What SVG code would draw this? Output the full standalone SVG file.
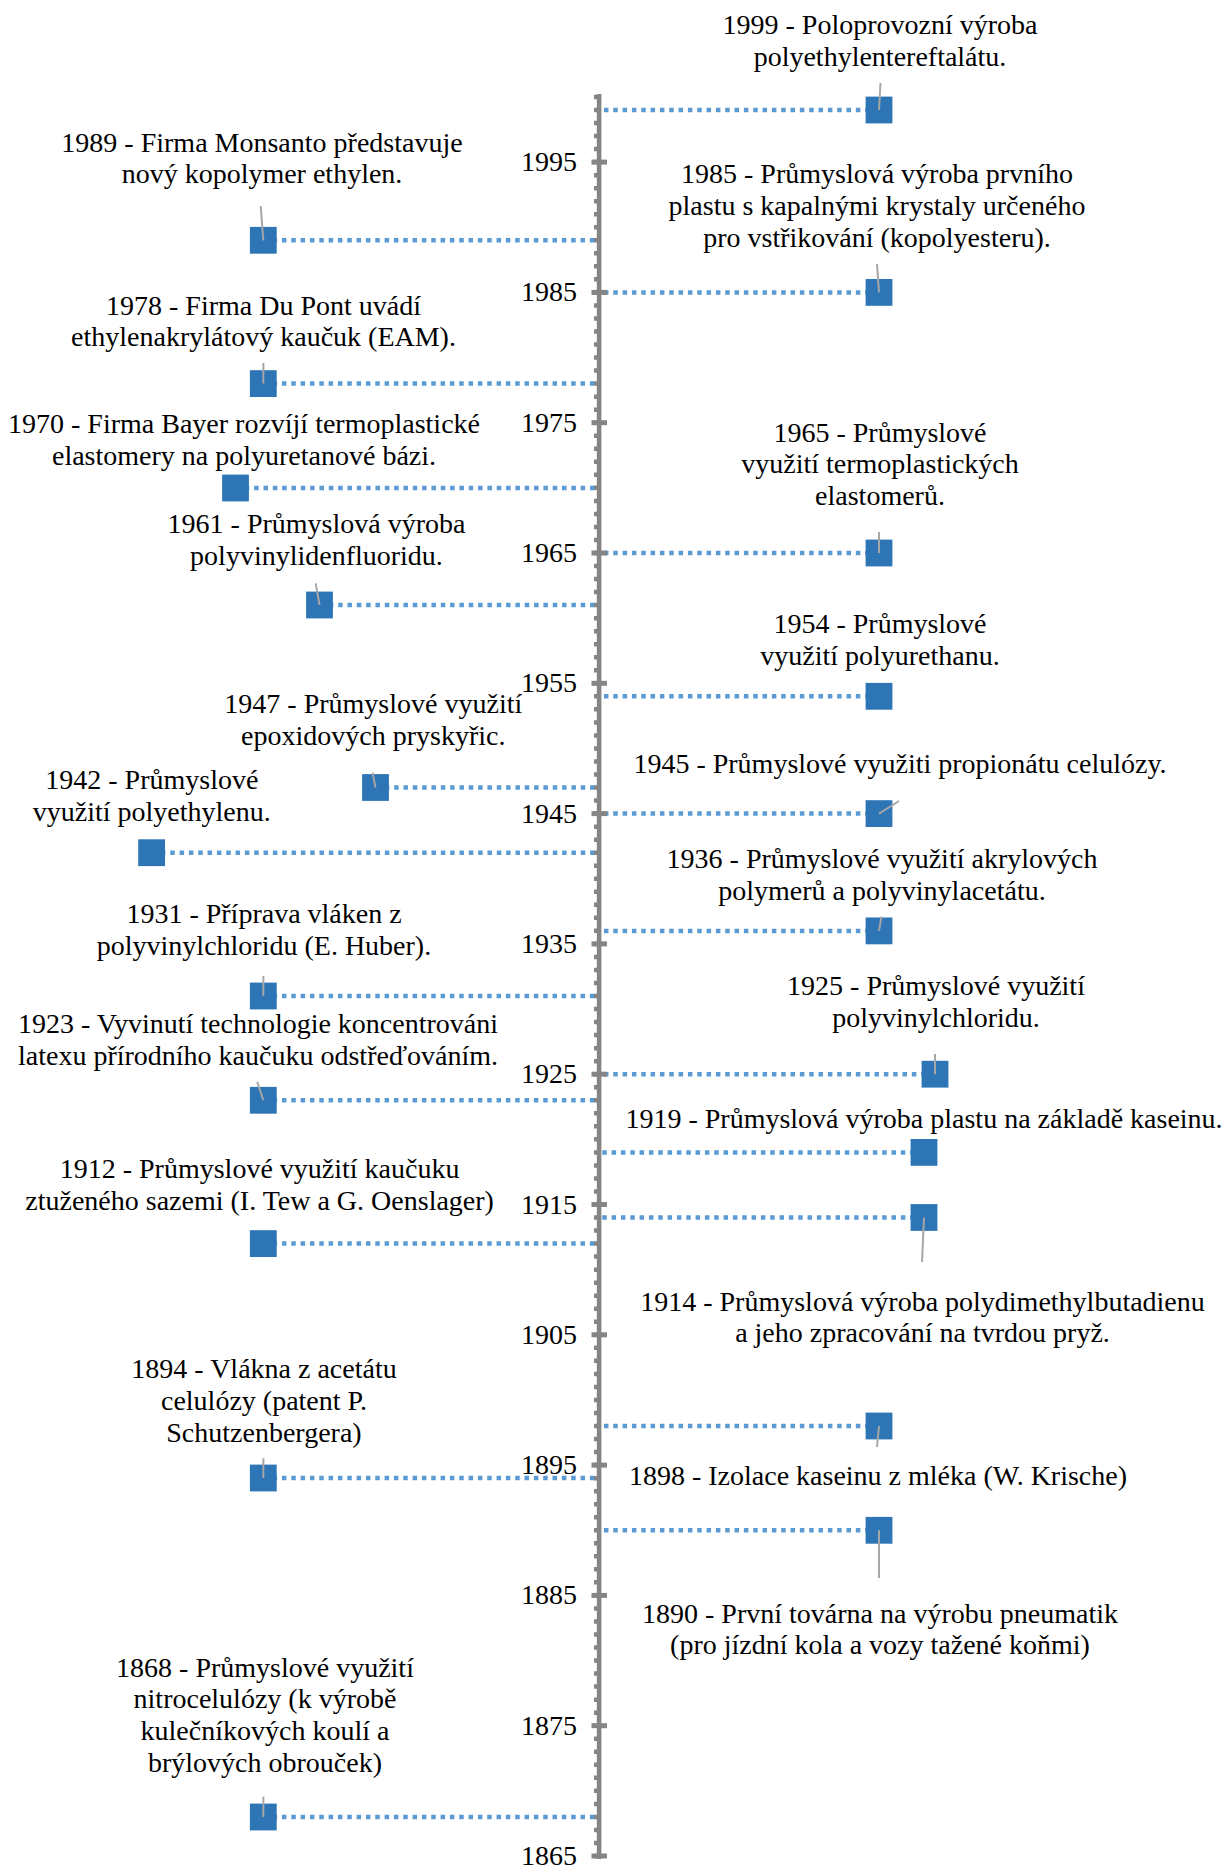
<svg xmlns="http://www.w3.org/2000/svg" width="1223" height="1868" viewBox="0 0 1223 1868">
<style>
text{font-family:"Liberation Serif","Times New Roman",serif;font-size:28px;fill:#000}
.lbl{text-anchor:middle}
.yr{text-anchor:end}
.sq{fill:#2E75B6}
.ld{stroke:#A6A6A6;stroke-width:2;fill:none}
.dot{stroke:#5B9BD5;stroke-width:4.5;stroke-dasharray:4.5 4.83;fill:none}
.ax{fill:#858585}
</style>
<rect width="1223" height="1868" fill="#fff"/>
<g id="connectors">
<line class="dot" x1="879" y1="110" x2="601" y2="110"/>
<line class="dot" x1="263.3" y1="240.3" x2="597" y2="240.3"/>
<line class="dot" x1="879" y1="292.4" x2="601" y2="292.4"/>
<line class="dot" x1="263.3" y1="383.6" x2="597" y2="383.6"/>
<line class="dot" x1="235.5" y1="488" x2="597" y2="488"/>
<line class="dot" x1="879" y1="553" x2="601" y2="553"/>
<line class="dot" x1="319.5" y1="605" x2="597" y2="605"/>
<line class="dot" x1="879" y1="696.3" x2="601" y2="696.3"/>
<line class="dot" x1="375.5" y1="787.5" x2="597" y2="787.5"/>
<line class="dot" x1="879" y1="813.6" x2="601" y2="813.6"/>
<line class="dot" x1="151.6" y1="852.7" x2="597" y2="852.7"/>
<line class="dot" x1="879" y1="930.9" x2="601" y2="930.9"/>
<line class="dot" x1="263.3" y1="996" x2="597" y2="996"/>
<line class="dot" x1="935" y1="1074.2" x2="601" y2="1074.2"/>
<line class="dot" x1="263.3" y1="1100.3" x2="597" y2="1100.3"/>
<line class="dot" x1="924" y1="1152.4" x2="601" y2="1152.4"/>
<line class="dot" x1="924" y1="1217.5" x2="601" y2="1217.5"/>
<line class="dot" x1="263.3" y1="1243.6" x2="597" y2="1243.6"/>
<line class="dot" x1="879" y1="1426" x2="601" y2="1426"/>
<line class="dot" x1="263.3" y1="1478" x2="597" y2="1478"/>
<line class="dot" x1="879" y1="1530.3" x2="601" y2="1530.3"/>
<line class="dot" x1="263.3" y1="1817" x2="597" y2="1817"/>
</g>
<g id="axis">
<rect class="ax" x="596.8" y="94" width="4.6" height="1765"/>
<line x1="595.5" y1="1858.25" x2="595.5" y2="94" stroke="#858585" stroke-width="3" stroke-dasharray="4.5 8.53"/>
<rect class="ax" x="591.5" y="1853.5" width="15.5" height="5"/>
<rect class="ax" x="591.5" y="1723.2" width="15.5" height="5"/>
<rect class="ax" x="591.5" y="1592.9" width="15.5" height="5"/>
<rect class="ax" x="591.5" y="1462.6" width="15.5" height="5"/>
<rect class="ax" x="591.5" y="1332.3" width="15.5" height="5"/>
<rect class="ax" x="591.5" y="1202" width="15.5" height="5"/>
<rect class="ax" x="591.5" y="1071.7" width="15.5" height="5"/>
<rect class="ax" x="591.5" y="941.4" width="15.5" height="5"/>
<rect class="ax" x="591.5" y="811.1" width="15.5" height="5"/>
<rect class="ax" x="591.5" y="680.8" width="15.5" height="5"/>
<rect class="ax" x="591.5" y="550.5" width="15.5" height="5"/>
<rect class="ax" x="591.5" y="420.2" width="15.5" height="5"/>
<rect class="ax" x="591.5" y="289.9" width="15.5" height="5"/>
<rect class="ax" x="591.5" y="159.6" width="15.5" height="5"/>
<text class="yr" x="577" y="1865">1865</text>
<text class="yr" x="577" y="1734.7">1875</text>
<text class="yr" x="577" y="1604.4">1885</text>
<text class="yr" x="577" y="1474.1">1895</text>
<text class="yr" x="577" y="1343.8">1905</text>
<text class="yr" x="577" y="1213.5">1915</text>
<text class="yr" x="577" y="1083.2">1925</text>
<text class="yr" x="577" y="952.9">1935</text>
<text class="yr" x="577" y="822.6">1945</text>
<text class="yr" x="577" y="692.3">1955</text>
<text class="yr" x="577" y="562">1965</text>
<text class="yr" x="577" y="431.7">1975</text>
<text class="yr" x="577" y="301.4">1985</text>
<text class="yr" x="577" y="171.1">1995</text>
</g>
<g id="e1999">
<rect class="sq" x="865.6" y="96.6" width="26.8" height="26.8"/>
<line class="ld" x1="880.5" y1="83" x2="879" y2="110"/>
<text class="lbl" x="880" y="34.3">1999 - Poloprovozní výroba</text>
<text class="lbl" x="880" y="65.7">polyethylentereftalátu.</text>
</g>
<g id="e1989">
<rect class="sq" x="249.9" y="226.9" width="26.8" height="26.8"/>
<line class="ld" x1="260.7" y1="206" x2="263.3" y2="240.3"/>
<text class="lbl" x="262" y="151.7">1989 - Firma Monsanto představuje</text>
<text class="lbl" x="262" y="183.3">nový kopolymer ethylen.</text>
</g>
<g id="e1985">
<rect class="sq" x="865.6" y="279" width="26.8" height="26.8"/>
<line class="ld" x1="877" y1="264" x2="879" y2="292.4"/>
<text class="lbl" x="877" y="183.3">1985 - Průmyslová výroba prvního</text>
<text class="lbl" x="877" y="215">plastu s kapalnými krystaly určeného</text>
<text class="lbl" x="877" y="246.7">pro vstřikování (kopolyesteru).</text>
</g>
<g id="e1978">
<rect class="sq" x="249.9" y="370.2" width="26.8" height="26.8"/>
<line class="ld" x1="263.4" y1="363" x2="263.3" y2="383.6"/>
<text class="lbl" x="263.5" y="314.5">1978 - Firma Du Pont uvádí</text>
<text class="lbl" x="263.5" y="346.2">ethylenakrylátový kaučuk (EAM).</text>
</g>
<g id="e1970">
<rect class="sq" x="222.1" y="474.6" width="26.8" height="26.8"/>
<text class="lbl" x="244" y="433.3">1970 - Firma Bayer rozvíjí termoplastické</text>
<text class="lbl" x="244" y="465">elastomery na polyuretanové bázi.</text>
</g>
<g id="e1965">
<rect class="sq" x="865.6" y="539.6" width="26.8" height="26.8"/>
<line class="ld" x1="879" y1="532" x2="879" y2="553"/>
<text class="lbl" x="880" y="441.7">1965 - Průmyslové</text>
<text class="lbl" x="880" y="473.3">využití termoplastických</text>
<text class="lbl" x="880" y="505">elastomerů.</text>
</g>
<g id="e1961">
<rect class="sq" x="306.1" y="591.6" width="26.8" height="26.8"/>
<line class="ld" x1="315.7" y1="583.3" x2="319.5" y2="605"/>
<text class="lbl" x="316.5" y="533.3">1961 - Průmyslová výroba</text>
<text class="lbl" x="316.5" y="565">polyvinylidenfluoridu.</text>
</g>
<g id="e1954">
<rect class="sq" x="865.6" y="682.9" width="26.8" height="26.8"/>
<text class="lbl" x="880" y="633.3">1954 - Průmyslové</text>
<text class="lbl" x="880" y="665">využití polyurethanu.</text>
</g>
<g id="e1947">
<rect class="sq" x="362.1" y="774.1" width="26.8" height="26.8"/>
<line class="ld" x1="372.6" y1="772.7" x2="375.5" y2="787.5"/>
<text class="lbl" x="373.3" y="713.3">1947 - Průmyslové využití</text>
<text class="lbl" x="373.3" y="745">epoxidových pryskyřic.</text>
</g>
<g id="e1945">
<rect class="sq" x="865.6" y="800.2" width="26.8" height="26.8"/>
<line class="ld" x1="879" y1="813.6" x2="899" y2="801"/>
<text class="lbl" x="900" y="773.3">1945 - Průmyslové využiti propionátu celulózy.</text>
</g>
<g id="e1942">
<rect class="sq" x="138.2" y="839.3" width="26.8" height="26.8"/>
<text class="lbl" x="151.8" y="789.3">1942 - Průmyslové</text>
<text class="lbl" x="151.8" y="821">využití polyethylenu.</text>
</g>
<g id="e1936">
<rect class="sq" x="865.6" y="917.5" width="26.8" height="26.8"/>
<line class="ld" x1="881.5" y1="916.7" x2="879" y2="930.9"/>
<text class="lbl" x="882" y="868.3">1936 - Průmyslové využití akrylových</text>
<text class="lbl" x="882" y="900">polymerů a polyvinylacetátu.</text>
</g>
<g id="e1931">
<rect class="sq" x="249.9" y="982.6" width="26.8" height="26.8"/>
<line class="ld" x1="263.4" y1="976" x2="263.3" y2="996"/>
<text class="lbl" x="264" y="923.3">1931 - Příprava vláken z</text>
<text class="lbl" x="264" y="955">polyvinylchloridu (E. Huber).</text>
</g>
<g id="e1925">
<rect class="sq" x="921.6" y="1060.8" width="26.8" height="26.8"/>
<line class="ld" x1="935" y1="1054" x2="935" y2="1074.2"/>
<text class="lbl" x="936" y="995">1925 - Průmyslové využití</text>
<text class="lbl" x="936" y="1026.7">polyvinylchloridu.</text>
</g>
<g id="e1923">
<rect class="sq" x="249.9" y="1086.9" width="26.8" height="26.8"/>
<line class="ld" x1="257.2" y1="1081.7" x2="263.3" y2="1100.3"/>
<text class="lbl" x="258" y="1033.3">1923 - Vyvinutí technologie koncentrováni</text>
<text class="lbl" x="258" y="1065">latexu přírodního kaučuku odstřeďováním.</text>
</g>
<g id="e1919">
<rect class="sq" x="910.6" y="1139" width="26.8" height="26.8"/>
<text class="lbl" x="924" y="1128.3">1919 - Průmyslová výroba plastu na základě kaseinu.</text>
</g>
<g id="e1914">
<rect class="sq" x="910.6" y="1204.1" width="26.8" height="26.8"/>
<line class="ld" x1="924" y1="1217.5" x2="922" y2="1262"/>
<text class="lbl" x="922.5" y="1310.7">1914 - Průmyslová výroba polydimethylbutadienu</text>
<text class="lbl" x="922.5" y="1342.3">a jeho zpracování na tvrdou pryž.</text>
</g>
<g id="e1912">
<rect class="sq" x="249.9" y="1230.2" width="26.8" height="26.8"/>
<text class="lbl" x="259.6" y="1178.3">1912 - Průmyslové využití kaučuku</text>
<text class="lbl" x="259.6" y="1210">ztuženého sazemi (I. Tew a G. Oenslager)</text>
</g>
<g id="e1898">
<rect class="sq" x="865.6" y="1412.6" width="26.8" height="26.8"/>
<line class="ld" x1="879" y1="1426" x2="877" y2="1447"/>
<text class="lbl" x="878" y="1485">1898 - Izolace kaseinu z mléka (W. Krische)</text>
</g>
<g id="e1894">
<rect class="sq" x="249.9" y="1464.6" width="26.8" height="26.8"/>
<line class="ld" x1="263.4" y1="1458.3" x2="263.3" y2="1478"/>
<text class="lbl" x="264" y="1378.3">1894 - Vlákna z acetátu</text>
<text class="lbl" x="264" y="1410">celulózy (patent P.</text>
<text class="lbl" x="264" y="1441.7">Schutzenbergera)</text>
</g>
<g id="e1890">
<rect class="sq" x="865.6" y="1516.9" width="26.8" height="26.8"/>
<line class="ld" x1="879" y1="1530.3" x2="879" y2="1578"/>
<text class="lbl" x="880" y="1622.7">1890 - První továrna na výrobu pneumatik</text>
<text class="lbl" x="880" y="1654.3">(pro jízdní kola a vozy tažené koňmi)</text>
</g>
<g id="e1868">
<rect class="sq" x="249.9" y="1803.6" width="26.8" height="26.8"/>
<line class="ld" x1="263.4" y1="1796.7" x2="263.3" y2="1817"/>
<text class="lbl" x="265" y="1676.7">1868 - Průmyslové využití</text>
<text class="lbl" x="265" y="1708.3">nitrocelulózy (k výrobě</text>
<text class="lbl" x="265" y="1740">kulečníkových koulí a</text>
<text class="lbl" x="265" y="1771.7">brýlových obrouček)</text>
</g>
</svg>
